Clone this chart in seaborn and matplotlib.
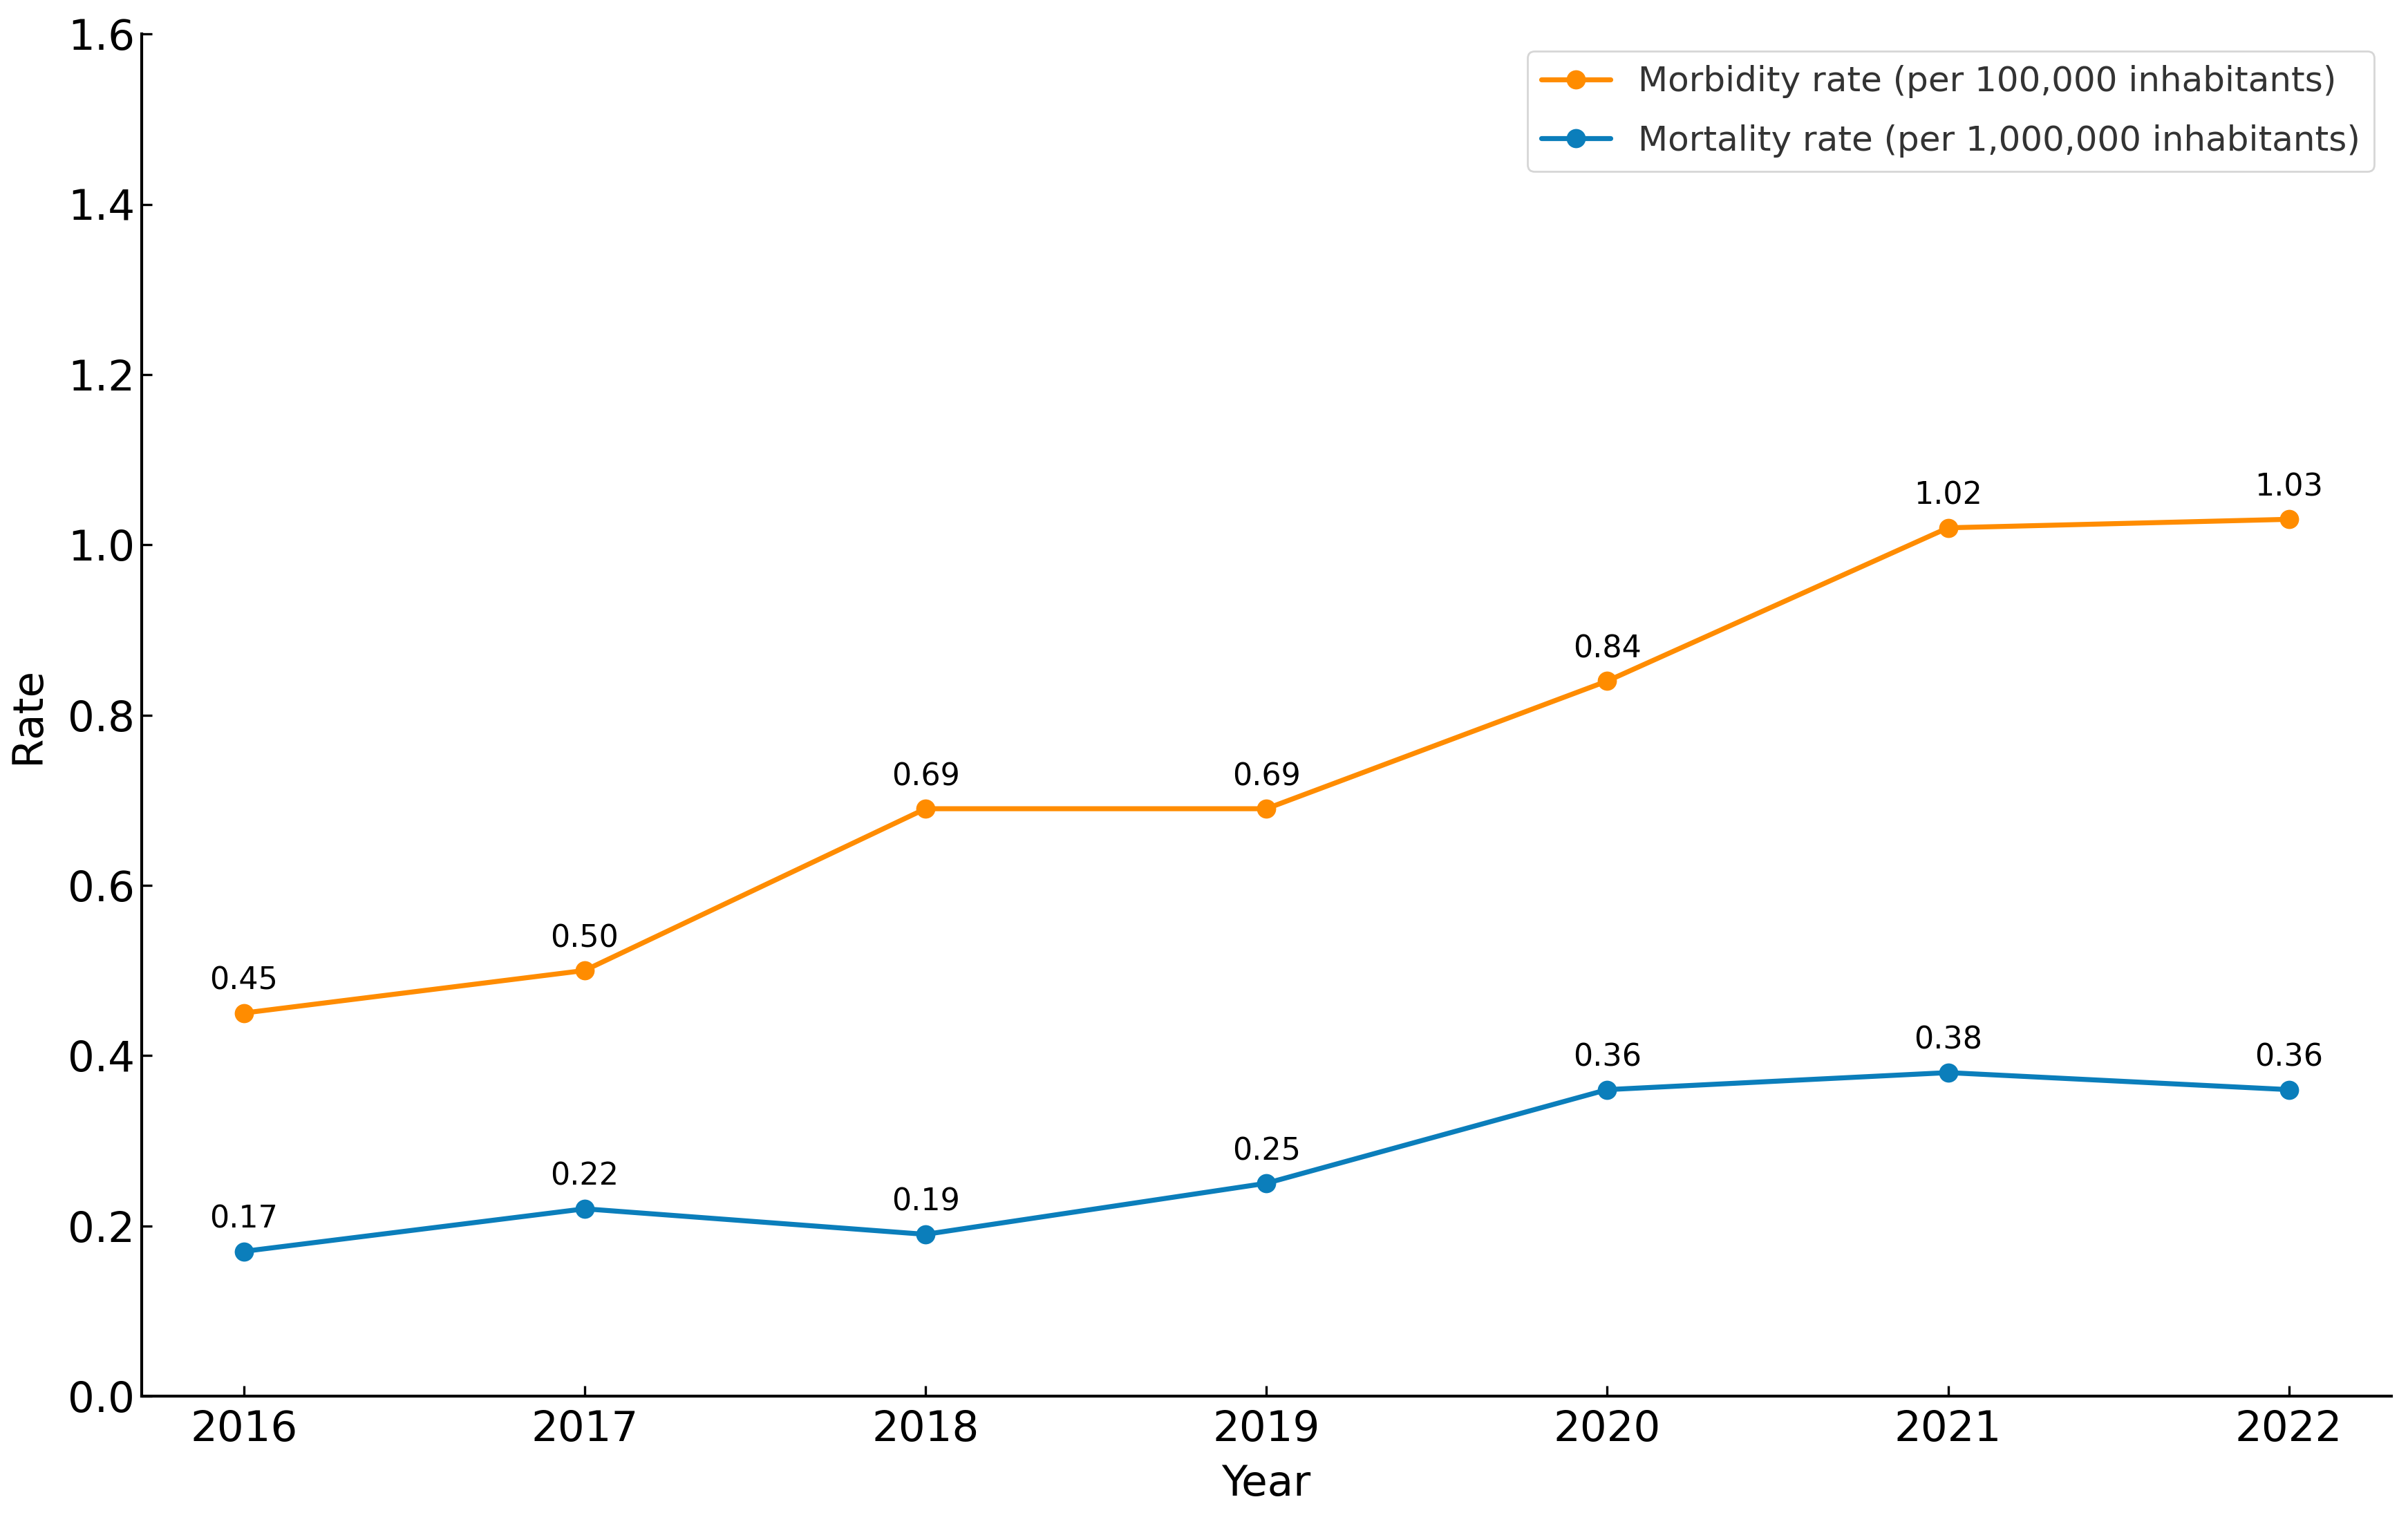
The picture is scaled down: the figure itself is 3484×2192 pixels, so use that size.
import matplotlib
matplotlib.use('Agg')
import matplotlib.pyplot as plt
import seaborn as sns
import pandas as pd

# === 資料 ===
years = [2016, 2017, 2018, 2019, 2020, 2021, 2022]
morbidity = [0.45, 0.50, 0.69, 0.69, 0.84, 1.02, 1.03]
mortality = [0.17, 0.22, 0.19, 0.25, 0.36, 0.38, 0.36]
morbidity_label = 'Morbidity rate (per 100,000 inhabitants)'
mortality_label = 'Mortality rate (per 1,000,000 inhabitants)'
y_ticks = [0.0, 0.2, 0.4, 0.6, 0.8, 1.0, 1.2, 1.4, 1.6]

sns.set_style('ticks')
plt.rcParams['font.family'] = ['DejaVu Sans']
plt.rcParams.update({'text.color': 'black', 'axes.labelcolor': 'black',
                     'xtick.color': 'black', 'ytick.color': 'black',
                     'axes.edgecolor': 'black'})

df = pd.DataFrame({'Year': years, 'Morbidity': morbidity, 'Mortality': mortality})

fig = plt.figure(figsize=(17.42, 10.96), dpi=200)
ax = fig.add_axes([0.0588, 0.0785, 0.9342, 0.899])

series = [('Morbidity', morbidity_label, '#FF8C00'),
          ('Mortality', mortality_label, '#0B7EBB')]
for col, lab, c in series:
    sns.lineplot(data=df, x='Year', y=col, ax=ax, color=c, label=lab,
                 marker='o', markersize=10, markeredgewidth=0, linewidth=2.6)
    for x, y in zip(df['Year'], df[col]):
        ax.annotate(f'{y:.2f}', (x, y), textcoords='offset points', xytext=(0, 9),
                    ha='center', va='bottom', fontsize=16)

ax.set_ylim(0, 1.6)
ax.set_yticks(y_ticks)
ax.set_xticks(years)
ax.set_xlabel('Year', fontsize=22, labelpad=7)
ax.set_ylabel('Rate', fontsize=22, labelpad=10)
ax.tick_params(direction='in', labelsize=22, length=5.5, width=1.2)
ax.tick_params(axis='x', pad=7)
for s in ['left', 'bottom']:
    ax.spines[s].set_linewidth(1.5)
sns.despine(ax=ax)

leg = ax.legend(loc='upper right', fontsize=18, labelspacing=0.75)
for t in leg.get_texts():
    t.set_color('#333333')

fig.savefig('out.png', dpi=200)
